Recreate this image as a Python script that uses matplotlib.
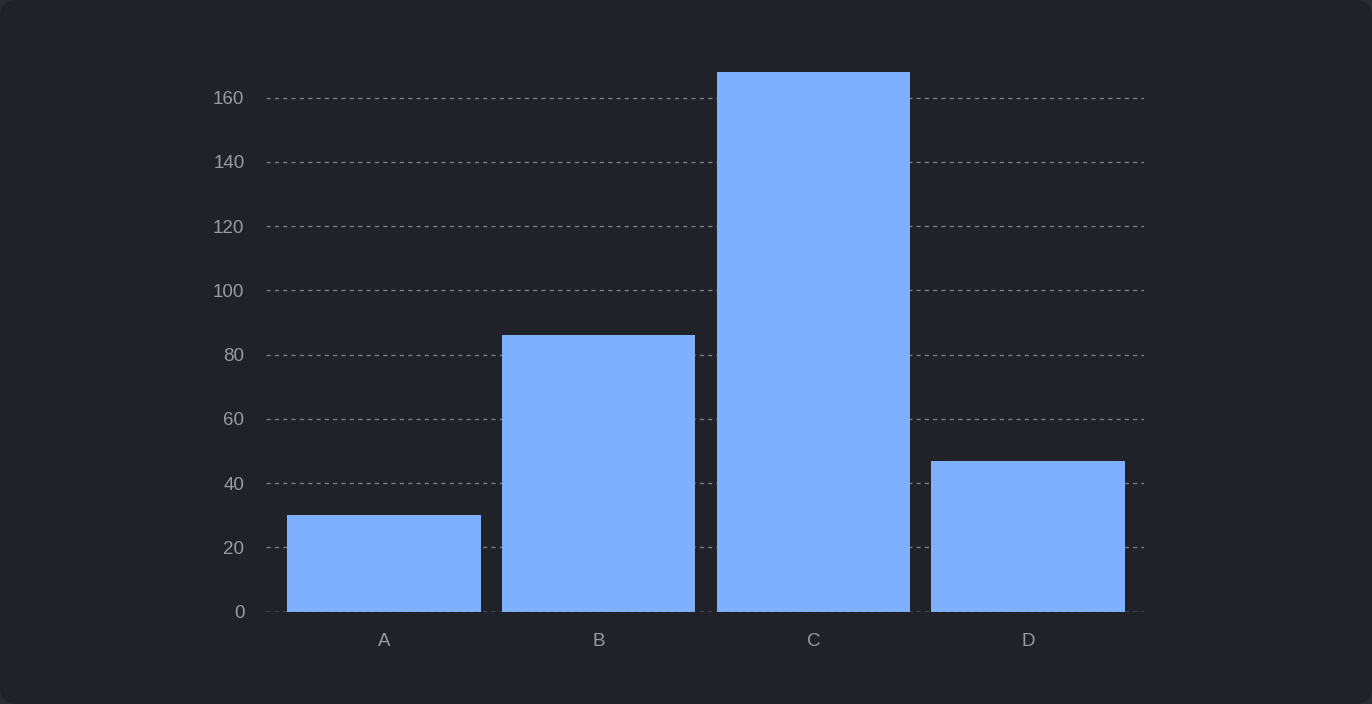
import matplotlib.pyplot as plt
from matplotlib.patches import FancyBboxPatch

categories = ["A", "B", "C", "D"]
values = [30, 86, 168, 47]
y_ticks = [0, 20, 40, 60, 80, 100, 120, 140, 160]

bg = "#212227"
bar_color = "#7fb0ff"
text_color = "#9a9ba1"
grid_color = "#7a7b80"

plt.rcParams["font.family"] = ["Liberation Sans", "DejaVu Sans"]

fig = plt.figure(figsize=(13.72, 7.04), dpi=100)
fig.patch.set_facecolor("#2b2c31")
card = FancyBboxPatch((0, 0), 1, 1, boxstyle="round,pad=0,rounding_size=0.012",
                      transform=fig.transFigure, facecolor=bg, edgecolor="none",
                      mutation_aspect=1372 / 704, zorder=-10)
fig.add_artist(card)

ax = fig.add_axes([266 / 1372, 1 - 611.5 / 704, 878 / 1372, 546 / 704])
ax.set_facecolor("none")
ax.set_zorder(5)
x = range(len(categories))
ax.bar(x, values, width=0.9, color=bar_color, zorder=2)
ax.set_xlim(-0.55, len(categories) - 0.46)
ax.set_ylim(0, 170)
ax.set_yticks(y_ticks)
ax.set_xticks(list(x))
ax.set_xticklabels(categories)
ax.grid(axis="y", color=grid_color, linestyle=(0, (3, 3)), linewidth=1.0, zorder=1)
ax.set_axisbelow(True)
# baseline stays visible over the bars
ax.axhline(0, color=grid_color, linestyle=(0, (3, 3)), linewidth=1.0, zorder=3)
for spine in ax.spines.values():
    spine.set_visible(False)
ax.tick_params(axis="both", length=0, colors=text_color, labelsize=13.5)
ax.tick_params(axis="y", pad=15.5)
ax.tick_params(axis="x", pad=15.5)

fig.savefig("out.png", dpi=100, facecolor=fig.get_facecolor())
